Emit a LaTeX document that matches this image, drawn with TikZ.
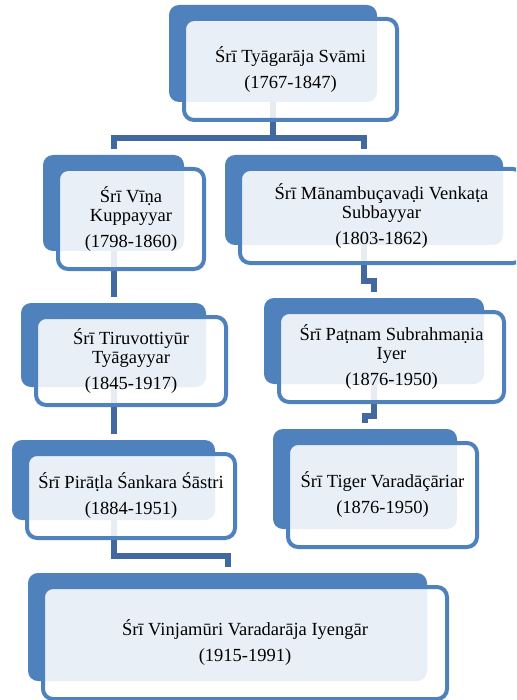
\documentclass[tikz,border=0pt]{standalone}
\usepackage{fontspec}
\setmainfont{Liberation Serif}
\usetikzlibrary{calc,backgrounds}

\definecolor{boxblue}{HTML}{4F81BD}
\definecolor{linkblue}{HTML}{41699F}

\tikzset{
  backbox/.style={fill=boxblue, rounded corners=10pt, inner sep=0pt},
  frontbox/.style={draw=boxblue, line width=4pt, fill=white, fill opacity=.88,
    text opacity=1, rounded corners=10pt, inner sep=0pt, align=center,
    font=\fontsize{18.5}{19}\selectfont},
  linkline/.style={draw=linkblue, line width=6pt}
}

\newcommand\guru[6]{
  \node[backbox, minimum width={(#4-#2)*1pt}, minimum height={(#5-#3)*1pt}]
    (#1B) at ({(#2+#4)/2},{(#3+#5)/2}) {};
  \node[frontbox, minimum width={(#4-#2+5)*1pt}, minimum height={(#5-#3+4)*1pt}]
    (#1) at ({(#2+#4)/2+17.5},{(#3+#5)/2+16}) {#6};
}
\newcommand\linkto[2]{
  \coordinate (m) at ($(#1.south)!.5!(#2B.north)$);
  \draw[linkline] (#1B.south) -- (#1B.south |- m) -| ($(#2B.north)+(0,-6)$);
}

\begin{document}
\begin{tikzpicture}[x=1pt, y=-1pt]
  \clip (0,0) rectangle (516,700);
  \guru{ty}{169}{5}{377}{102}{Śrī Tyāgarāja Svāmi\\[7pt](1767-1847)}
  \guru{vk}{43}{155}{184}{251}{Śrī Vīṇa\\Kuppayyar\\[7pt](1798-1860)}
  \guru{ms}{225}{155}{503}{245}{Śrī Mānambuçavaḍi Venkaṭa\\Subbayyar\\[7pt](1803-1862)}
  \guru{tt}{21}{303}{206}{387}{Śrī Tiruvottiyūr\\Tyāgayyar\\[7pt](1845-1917)}
  \guru{ps}{264}{298}{484}{384}{Śrī Paṭnam Subrahmaṇia\\Iyer\\[7pt](1876-1950)}
  \guru{tv}{273}{429}{457}{529}{Śrī Tiger Varadāçāriar\\[7pt](1876-1950)}
  \guru{pss}{12}{440}{215}{520}{Śrī Pirāṭla Śankara Śāstri\\[7pt](1884-1951)}
  \guru{vv}{28}{573}{427}{681}{Śrī Vinjamūri Varadarāja Iyengār\\[7pt](1915-1991)}
  \begin{scope}[on background layer]
    \linkto{ty}{vk}
    \linkto{ty}{ms}
    \linkto{vk}{tt}
    \linkto{ms}{ps}
    \linkto{tt}{pss}
    \linkto{ps}{tv}
    \linkto{pss}{vv}
  \end{scope}
\end{tikzpicture}
\end{document}
